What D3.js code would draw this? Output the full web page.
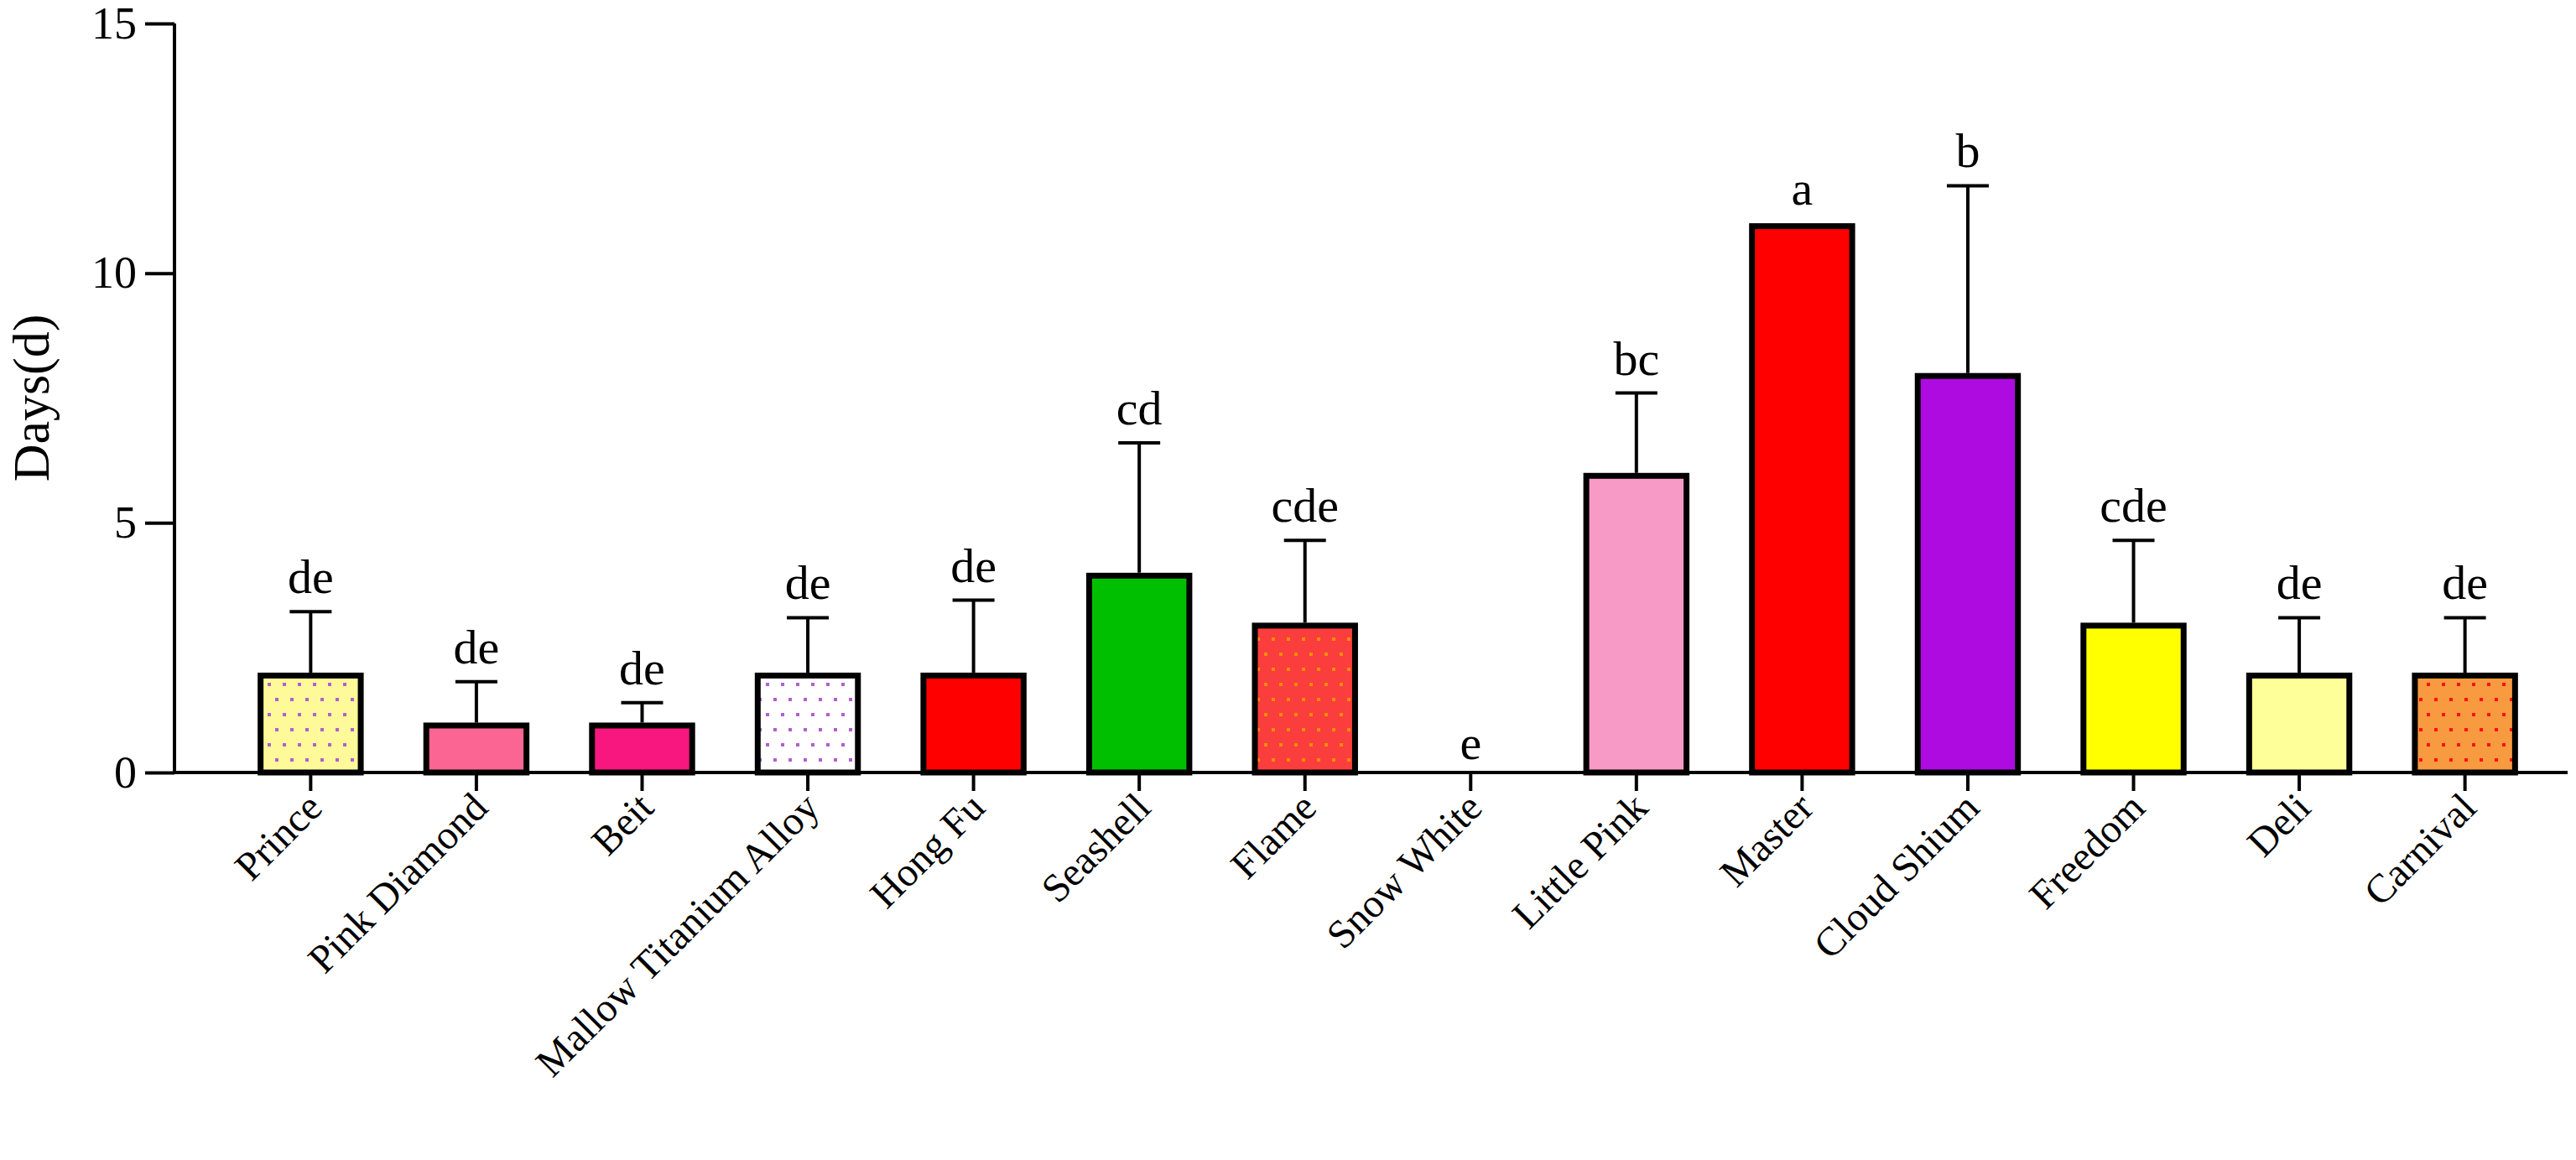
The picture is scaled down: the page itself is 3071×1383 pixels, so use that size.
<!DOCTYPE html>
<html><head><meta charset="utf-8">
<script src="https://cdn.jsdelivr.net/npm/d3@7"></script>
<style>body{margin:0;background:#fff}</style></head>
<body><svg id="c" width="3071" height="1383"></svg>
<script>
const categories=["Prince","Pink Diamond","Beit","Mallow Titanium Alloy","Hong Fu","Seashell","Flame","Snow White","Little Pink","Master","Cloud Shium","Freedom","Deli","Carnival"];
const means=[2,1,1,2,2,4,3,0,6,11,8,3,2,2];
const upper=[3.22,1.82,1.4,3.1,3.45,6.6,4.65,0,7.6,11,11.75,4.65,3.1,3.1];
const letters=["de","de","de","de","de","cd","cde","e","bc","a","b","cde","de","de"];
const fills=["#fefa9a","#fb6593","#f7177e","#ffffff","#ff0000","#00bf00","#fa3d3d","#ffffff","#f89ac6","#ff0000","#ae0be0","#ffff00","#ffff99","#f89a40"];
const dots=["#b060d0",null,null,"#b060d0",null,null,"#ff8c00",null,null,null,null,null,null,"#ff1010"];
const yTicks=[0,5,10,15];

const svg=d3.select("#c");
const m={l:208,r:10,t:28,b:462};
const W=3071,H=1383;
const x=d3.scaleBand().domain(categories).range([m.l+30,W-m.r+10]).paddingInner(0.36).paddingOuter(0.35);
const y=d3.scaleLinear().domain([0,15]).range([H-m.b,m.t]);
const defs=svg.append("defs");
categories.forEach((c,i)=>{
  if(!dots[i])return;
  const p=defs.append("pattern").attr("id","p"+i).attr("patternUnits","userSpaceOnUse").attr("width",36).attr("height",36);
  p.append("rect").attr("width",36).attr("height",36).attr("fill",fills[i]);
  [[4,4],[22,4],[13,22],[31,22]].forEach(([a,b])=>p.append("rect").attr("x",a).attr("y",b).attr("width",4).attr("height",4).attr("fill",dots[i]));
});
const g=svg.append("g");
const bw=x.bandwidth();
categories.forEach((c,i)=>{
  if(upper[i]>means[i]){
    const cx=x(c)+bw/2;
    g.append("line").attr("x1",cx).attr("x2",cx).attr("y1",y(means[i])).attr("y2",y(upper[i])).attr("stroke","#000").attr("stroke-width",4);
    g.append("line").attr("x1",cx-25).attr("x2",cx+25).attr("y1",y(upper[i])).attr("y2",y(upper[i])).attr("stroke","#000").attr("stroke-width",4);
  }
});
g.selectAll("rect.bar").data(categories.map((c,i)=>({c,i}))).enter().filter(d=>means[d.i]>0).append("rect")
 .attr("x",d=>x(d.c)+3.5).attr("width",bw-7)
 .attr("y",d=>y(means[d.i])+3.5).attr("height",d=>y(0)-y(means[d.i])-3.5)
 .attr("fill",d=>dots[d.i]?"url(#p"+d.i+")":fills[d.i]).attr("stroke","#000").attr("stroke-width",7);
categories.forEach((c,i)=>{
  g.append("text").attr("x",x(c)+bw/2).attr("y",y(Math.max(upper[i],means[i]))-(i==7?16:22))
   .attr("text-anchor","middle").attr("font-family","Liberation Serif").attr("font-size",58).text(letters[i]);
});
const yAx=svg.append("g").attr("transform",`translate(${m.l},0)`).call(d3.axisLeft(y).tickValues(yTicks).tickSize(35).tickPadding(10));
yAx.selectAll("path,line").attr("stroke","#000").attr("stroke-width",4);
yAx.select("path").attr("d",`M0,${y(15)}V${y(0)}`);
yAx.selectAll("text").attr("font-family","Liberation Serif").attr("font-size",54).attr("fill","#000");
const xAx=svg.append("g").attr("transform",`translate(0,${y(0)})`).call(d3.axisBottom(x).tickSize(22).tickPadding(16));
xAx.select("path").attr("d",`M${m.l},0H${W-10}`).attr("stroke","#000").attr("stroke-width",4);
xAx.selectAll("line").attr("stroke","#000").attr("stroke-width",4);
xAx.selectAll("text").attr("font-family","Liberation Serif").attr("font-size",48).attr("fill","#000")
 .attr("text-anchor","end").attr("dy","0.35em").attr("transform","translate(0,20) rotate(-45)").attr("y",12).attr("x",-6);
svg.append("text").attr("transform",`translate(58,${y(7.5)}) rotate(-90)`).attr("text-anchor","middle")
 .attr("font-family","Liberation Serif").attr("font-size",62).text("Days(d)");
</script></body></html>
